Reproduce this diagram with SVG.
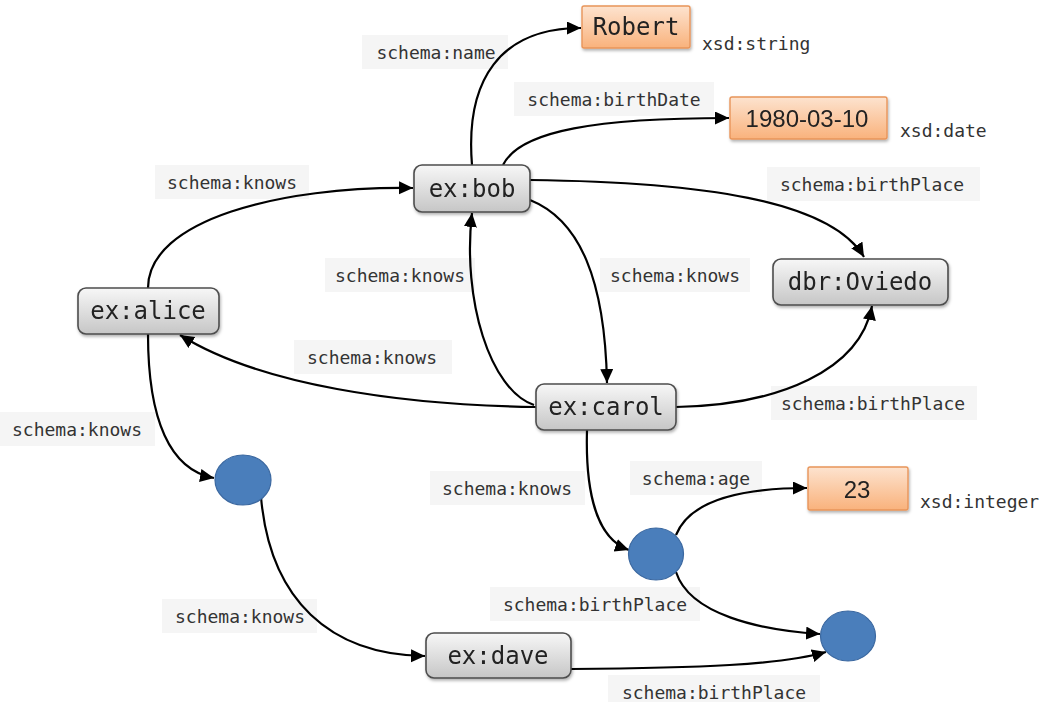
<svg xmlns="http://www.w3.org/2000/svg" width="1041" height="702" viewBox="0 0 1041 702">
<style>
.lblbg{fill:#f5f5f5}
.lbl{font-family:"DejaVu Sans Mono","Liberation Mono",monospace;font-size:18px;fill:#333;text-anchor:middle;dominant-baseline:central}
.dt{font-family:"DejaVu Sans Mono","Liberation Mono",monospace;font-size:18px;fill:#333;dominant-baseline:central}
.res{fill:url(#gGray);stroke:#4d4d4d;stroke-width:1.6}
.lit{fill:url(#gOrange);stroke:#e8955a;stroke-width:1.4}
.ntext{font-family:"DejaVu Sans Mono","Liberation Mono",monospace;font-size:24px;fill:#222;text-anchor:middle;dominant-baseline:central}
.ltext{font-family:"Liberation Sans",Arial,sans-serif;font-size:24px;fill:#222;text-anchor:middle;dominant-baseline:central}
.blank{fill:#4a7ebb;stroke:#3b68a0;stroke-width:1.2}
.edge{fill:none;stroke:#000;stroke-width:2.2;marker-end:url(#arr)}
</style>
<defs>
<linearGradient id="gGray" x1="0" y1="0" x2="0" y2="1">
<stop offset="0" stop-color="#f7f7f7"/>
<stop offset="1" stop-color="#c6c6c6"/>
</linearGradient>
<linearGradient id="gOrange" x1="0" y1="0" x2="0" y2="1">
<stop offset="0" stop-color="#fde3cf"/>
<stop offset="1" stop-color="#f9b27c"/>
</linearGradient>
<filter id="sh" x="-10%" y="-10%" width="130%" height="140%">
<feDropShadow dx="1" dy="2" stdDeviation="1.5" flood-color="#000" flood-opacity="0.3"/>
</filter>
<marker id="arr" markerUnits="userSpaceOnUse" markerWidth="16" markerHeight="14" refX="14" refY="6.5" orient="auto">
<path d="M0,0 L14,6.5 L0,13 z" fill="#000"/>
</marker>
</defs>
<rect width="1041" height="702" fill="#fff"/>

<g id="labels">
<rect class="lblbg" x="362" y="35" width="146" height="34"/><text class="lbl" x="436" y="52">schema:name</text>
<rect class="lblbg" x="514" y="82" width="200" height="34"/><text class="lbl" x="614" y="99">schema:birthDate</text>
<rect class="lblbg" x="155" y="165" width="154" height="34"/><text class="lbl" x="232" y="182">schema:knows</text>
<rect class="lblbg" x="767" y="167" width="213" height="34"/><text class="lbl" x="872" y="184">schema:birthPlace</text>
<rect class="lblbg" x="325" y="258" width="150" height="34"/><text class="lbl" x="400" y="275">schema:knows</text>
<rect class="lblbg" x="600" y="258" width="150" height="34"/><text class="lbl" x="675" y="275">schema:knows</text>
<rect class="lblbg" x="294" y="340" width="158" height="34"/><text class="lbl" x="372" y="357">schema:knows</text>
<rect class="lblbg" x="771" y="386" width="206" height="34"/><text class="lbl" x="873" y="403">schema:birthPlace</text>
<rect class="lblbg" x="0" y="412" width="155" height="34"/><text class="lbl" x="77" y="429">schema:knows</text>
<rect class="lblbg" x="430" y="471" width="155" height="34"/><text class="lbl" x="507" y="488">schema:knows</text>
<rect class="lblbg" x="630" y="461" width="132" height="34"/><text class="lbl" x="696" y="478">schema:age</text>
<rect class="lblbg" x="490" y="587" width="210" height="34"/><text class="lbl" x="595" y="604">schema:birthPlace</text>
<rect class="lblbg" x="162" y="599" width="155" height="34"/><text class="lbl" x="240" y="616">schema:knows</text>
<rect class="lblbg" x="608" y="675" width="212" height="27"/><text class="lbl" x="714" y="692">schema:birthPlace</text>
<text class="dt" x="702" y="43">xsd:string</text>
<text class="dt" x="900" y="130">xsd:date</text>
<text class="dt" x="920" y="501">xsd:integer</text>
</g>

<g id="connectors">
<path class="edge" d="M148,288 C148,220 280,186 413,188"/>
<path class="edge" d="M472,165 C465,80 500,28 581,28"/>
<path class="edge" d="M503,165 C520,130 600,118 729,118"/>
<path class="edge" d="M530,180 C700,182 830,200 864,257"/>
<path class="edge" d="M530,200 C580,220 605,280 607,383"/>
<path class="edge" d="M534,405 C490,390 462,300 472,213"/>
<path class="edge" d="M536,407 C400,405 260,385 180,335"/>
<path class="edge" d="M676,407 C780,405 860,370 872,306"/>
<path class="edge" d="M148,334 C148,420 170,470 214,478"/>
<path class="edge" d="M261,497 C270,600 330,655 425,656"/>
<path class="edge" d="M587,430 C585,500 600,540 629,550"/>
<path class="edge" d="M676,535 C690,500 740,488 807,488"/>
<path class="edge" d="M676,572 C690,615 760,630 820,634"/>
<path class="edge" d="M571,669 C700,668 780,665 826,652"/>
</g>

<g id="robert" filter="url(#sh)"><rect class="lit" x="582" y="6" width="108" height="42" rx="2"/><text class="ltext" x="636" y="27" style="font-family:'DejaVu Sans Mono','Liberation Mono',monospace">Robert</text></g>
<g id="date" filter="url(#sh)"><rect class="lit" x="730" y="97" width="157" height="42" rx="2"/><text class="ltext" x="807" y="118">1980-03-10</text></g>
<g id="int23" filter="url(#sh)"><rect class="lit" x="808" y="467" width="100" height="43" rx="2"/><text class="ltext" x="857" y="489">23</text></g>
<g id="bob" filter="url(#sh)"><rect class="res" x="414" y="165" width="116" height="47" rx="8"/><text class="ntext" x="472" y="189">ex:bob</text></g>
<g id="alice" filter="url(#sh)"><rect class="res" x="78" y="288" width="141" height="46" rx="8"/><text class="ntext" x="148" y="311">ex:alice</text></g>
<g id="oviedo" filter="url(#sh)"><rect class="res" x="773" y="259" width="175" height="46" rx="8"/><text class="ntext" x="860" y="282">dbr:Oviedo</text></g>
<g id="carol" filter="url(#sh)"><rect class="res" x="536" y="384" width="140" height="46" rx="8"/><text class="ntext" x="606" y="407">ex:carol</text></g>
<g id="dave" filter="url(#sh)"><rect class="res" x="426" y="633" width="145" height="45" rx="8"/><text class="ntext" x="498" y="656">ex:dave</text></g>
<g id="blank1"><ellipse class="blank" cx="243" cy="480" rx="28" ry="25"/></g>
<g id="blank2"><ellipse class="blank" cx="656" cy="554" rx="27.5" ry="26"/></g>
<g id="blank3"><ellipse class="blank" cx="848" cy="636" rx="27.5" ry="25"/></g>
</svg>
